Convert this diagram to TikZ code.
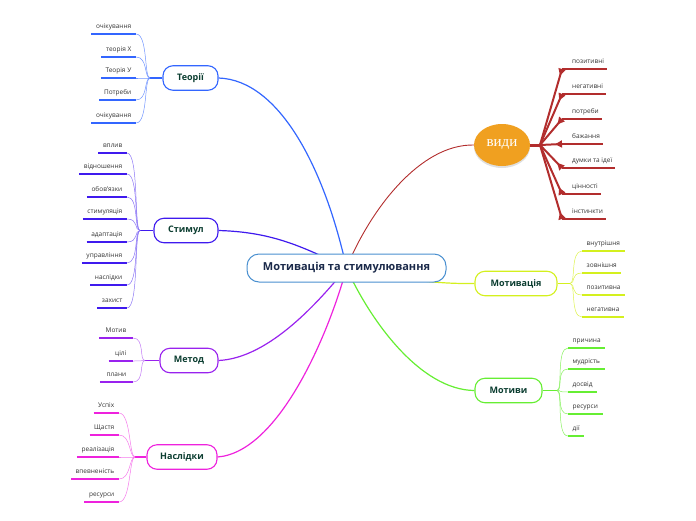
\documentclass[tikz,border=0pt]{standalone}
\usepackage{fontspec}
\setmainfont{Open Sans}
\newfontfamily\vydyfont{Liberation Serif}
\usetikzlibrary{arrows.meta,shapes.geometric,shadows,backgrounds}

\definecolor{centerColor}{HTML}{4A90D0}
\definecolor{centerText}{HTML}{1B2A4A}
\definecolor{branchText}{HTML}{0B3D30}
\definecolor{leafText}{HTML}{333333}
\definecolor{teoriiColor}{HTML}{3366FF}
\definecolor{stymulColor}{HTML}{3F1AEE}
\definecolor{metodColor}{HTML}{9922EE}
\definecolor{naslidkyColor}{HTML}{EE22DD}
\definecolor{vydyColor}{HTML}{B22D2D}
\definecolor{vydyFill}{HTML}{F0A020}
\definecolor{motyvatsiiaColor}{HTML}{D4F01E}
\definecolor{motyvyColor}{HTML}{66EE33}

\tikzset{
  leaf/.style={font=\fontsize{6.5}{8}\selectfont, text=leafText, inner xsep=4.5pt,
    inner ysep=4pt, text height=5pt, text depth=1.5pt},
  branch/.style={draw, line width=1.1pt, fill=white, rounded corners=10pt,
    minimum height=24.5pt, inner xsep=8pt, font=\fontsize{9}{10}\selectfont\bfseries,
    text=branchText},
  twig/.style={line width=0.5pt, out distance=6pt, in distance=12pt},
  leafline/.style={line width=1.6pt},
  limb/.style={line width=1.2pt},
  spoke/.style={line width=2pt, vydyColor, -{Triangle[reversed,length=7pt,width=7pt]}},
}

\begin{document}
\begin{tikzpicture}[x=1pt,y=-1pt]
    \useasboundingbox (0,0) rectangle (696,520);

    % central topic
    \node[draw=centerColor, line width=1pt, fill=white, rounded corners=12pt,
      minimum width=199pt, minimum height=28pt, text=centerText,
      font=\fontsize{11}{12}\selectfont\bfseries] (centre) at (346.5,268) {Мотивація та стимулювання};

    % main branches
    \node[branch, draw=teoriiColor, minimum width=55pt] (teorii) at (190.5,78) {Теорії};
    \node[branch, draw=stymulColor, minimum width=64pt] (stymul) at (186,230.5) {Стимул};
    \node[branch, draw=metodColor, minimum width=58pt] (metod) at (189,360.5) {Метод};
    \node[branch, draw=naslidkyColor, minimum width=70pt] (naslidky) at (182,457) {Наслідки};
    \node[branch, draw=motyvatsiiaColor, minimum width=82pt] (motyvatsiia) at (516,283.5) {Мотивація};
    \node[branch, draw=motyvyColor, minimum width=67pt] (motyvy) at (508.5,390.5) {Мотиви};
    \node[ellipse, fill=vydyFill, minimum width=56pt, minimum height=42pt, text=white,
      drop shadow={opacity=0.25, shadow xshift=0pt, shadow yshift=-2pt},
      font=\vydyfont\fontsize{15}{16}\selectfont] (vydy) at (502,145) {види};

    % junctions
    \coordinate (teoJ) at (150,78);
    \coordinate (stymJ) at (140,230.5);
    \coordinate (metJ) at (145,360.5);
    \coordinate (naslJ) at (135,457);
    \coordinate (vydJ) at (540,145);
    \coordinate (motvJ) at (570,283.5);
    \coordinate (motyJ) at (557,390.5);

    \begin{pgfonlayer}{background}
    % main connectors
    \draw[limb, teoriiColor] (teorii.east) .. controls (280,80) and (325,170) .. (centre.center);
    \draw[limb, stymulColor] (stymul.east) .. controls (270,232) and (300,245) .. (centre.center);
    \draw[limb, metodColor] (metod.east) .. controls (270,358) and (320,300) .. (centre.center);
    \draw[limb, naslidkyColor] (naslidky.east) .. controls (280,452) and (330,330) .. (centre.center);
    \draw[limb, vydyColor, line width=0.9pt] (vydy.west) .. controls (420,144) and (370,210) .. (centre.center);
    \draw[limb, motyvatsiiaColor] (motyvatsiia.west) .. controls (440,284) and (400,280) .. (centre.center);
    \draw[limb, motyvyColor] (motyvy.west) .. controls (420,390) and (370,320) .. (centre.center);
    \end{pgfonlayer}

    % branch stems
    \draw[limb, teoriiColor] (teorii.west) -- (teoJ);
    \draw[limb, stymulColor] (stymul.west) -- (stymJ);
    \draw[limb, metodColor] (metod.west) -- (metJ);
    \draw[limb, naslidkyColor] (naslidky.west) -- (naslJ);
    \draw[vydyColor, line width=3pt] (vydy.east) -- (vydJ);
    \draw[limb, motyvatsiiaColor] (motyvatsiia.east) -- (motvJ);
    \draw[limb, motyvyColor] (motyvy.east) -- (motyJ);

    % Теорії
    \foreach \txt/\y [count=\i] in {очікування/34, теорія Х/57, Теорія У/78, Потреби/100, очікування/123}{
      \node[leaf, anchor=south east] (teo\i) at (136,\y) {\txt};
      \draw[leafline, teoriiColor] (teo\i.south west) -- (teo\i.south east);
      \draw[twig, teoriiColor!70] (teoJ) to[out=180,in=0] (teo\i.south east);
    }

    % Стимул
    \foreach \txt/\y [count=\i] in {вплив/153, відношення/174, обов'язки/197, стимуляція/219,
        адаптація/242, управління/263, наслідки/285, захист/308}{
      \node[leaf, anchor=south east] (stym\i) at (127,\y) {\txt};
      \draw[leafline, stymulColor] (stym\i.south west) -- (stym\i.south east);
      \draw[twig, stymulColor!60] (stymJ) to[out=180,in=0] (stym\i.south east);
    }

    % Метод
    \foreach \txt/\y [count=\i] in {Мотив/338, цілі/361, плани/382}{
      \node[leaf, anchor=south east, inner xsep=6.5pt] (met\i) at (133,\y) {\txt};
      \draw[leafline, metodColor] (met\i.south west) -- (met\i.south east);
      \draw[twig, metodColor!60] (metJ) to[out=180,in=0] (met\i.south east);
    }

    % Наслідки
    \foreach \txt/\y [count=\i] in {Успіх/413, Щастя/435, реалізація/457, впевненість/479, ресурси/502}{
      \node[leaf, anchor=south east] (nasl\i) at (119,\y) {\txt};
      \draw[leafline, naslidkyColor] (nasl\i.south west) -- (nasl\i.south east);
      \draw[twig, naslidkyColor!60] (naslJ) to[out=180,in=0] (nasl\i.south east);
    }

    % види
    \foreach \txt/\y [count=\i] in {позитивні/69, негативні/94, потреби/119, бажання/144,
        думки та ідеї/168, цінності/194, інстинкти/219}{
      \node[leaf, anchor=south west, inner xsep=0pt] (vyd\i) at (572,\y) {\txt};
      \coordinate (vs\i) at (562,\y);
      \draw[leafline, vydyColor] (vs\i) -- ([xshift=3pt]vyd\i.south east);
      \draw[spoke] (vydJ) -- (vs\i);
    }

    % Мотивація
    \foreach \txt/\y [count=\i] in {внутрішня/251, зовнішня/273, позитивна/295, негативна/317}{
      \node[leaf, anchor=south west] (motv\i) at (582,\y) {\txt};
      \draw[leafline, motyvatsiiaColor] (motv\i.south west) -- (motv\i.south east);
      \draw[twig, motyvatsiiaColor!80] (motvJ) to[out=0,in=180] (motv\i.south west);
    }

    % Мотиви
    \foreach \txt/\y [count=\i] in {причина/348, мудрість/369, досвід/392, ресурси/414, дії/436}{
      \node[leaf, anchor=south west] (moty\i) at (568,\y) {\txt};
      \draw[leafline, motyvyColor] (moty\i.south west) -- (moty\i.south east);
      \draw[twig, motyvyColor!80] (motyJ) to[out=0,in=180] (moty\i.south west);
    }
\end{tikzpicture}
\end{document}
